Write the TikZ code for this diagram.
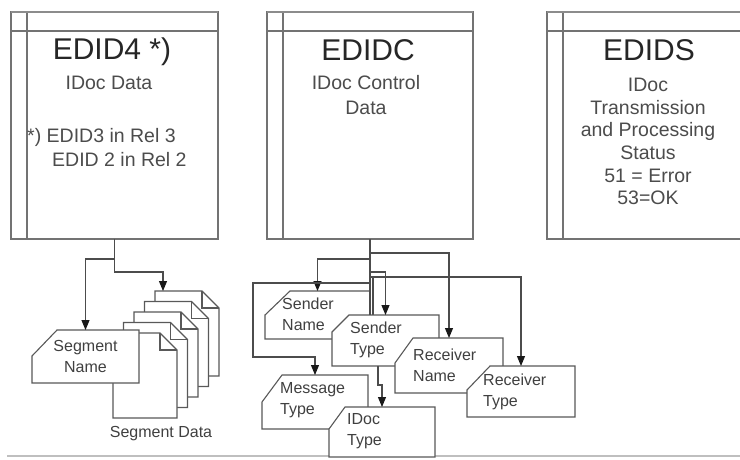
\documentclass[tikz,border=0pt]{standalone}
\usepackage{fontspec}
\setmainfont{Liberation Sans}
\usetikzlibrary{arrows.meta,calc}
\tikzset{
  tbl/.style={draw=black!55, line width=1.1pt, inner sep=0pt, outer sep=0pt, fill=white},
  ln/.style={draw=black!55, line width=1.1pt},
  topln/.style={draw=black!45, line width=2.4pt},
  conn/.style={draw=black!70, line width=1.1pt},
  arr/.style={conn, -{Triangle[width=8pt,length=10pt,color=black!90]}},
  shp/.style={draw=black!65, line width=1.1pt, fill=white},
  ttl/.style={font=\fontsize{30}{30}\selectfont, text=black!85, inner sep=0pt},
  sub/.style={font=\fontsize{19.5}{23}\selectfont, text=black!70, align=center, inner sep=0pt},
  lbl/.style={font=\fontsize{16}{21}\selectfont, text=black!75, align=left, inner sep=0pt},
}
\newcommand{\cutshape}[7]{%
  \node[inner sep=0pt, outer sep=0pt, minimum width=#4pt, minimum height=#5pt, anchor=north west] (#1) at (#2,#3) {};
  \filldraw[shp] ($(#1.north west)+(#6,0)$) -- (#1.north east) -- (#1.south east) -- (#1.south west) -- ($(#1.north west)+(0,#7)$) -- cycle;}
\newcommand{\docshape}[3]{%
  \node[inner sep=0pt, outer sep=0pt, minimum width=64pt, minimum height=85pt, anchor=north west] (#1) at (#2,#3) {};
  \filldraw[shp] (#1.north west) -- ($(#1.north east)+(-17,0)$) -- ($(#1.north east)+(0,17)$) -- (#1.south east) -- (#1.south west) -- cycle;
  \draw[shp, fill=none] ($(#1.north east)+(-17,0)$) -- ($(#1.north east)+(-17,17)$) -- ($(#1.north east)+(0,17)$);}
\begin{document}
\begin{tikzpicture}[x=1pt,y=-1pt]
\useasboundingbox (0,0) rectangle (740,459);
\clip (0,0) rectangle (740,459);
\fill[white] (0,0) rectangle (740,459);

% main tables
\node[tbl, minimum width=207pt, minimum height=227pt, anchor=north west] (edid4) at (11,12) {};
\node[tbl, minimum width=206pt, minimum height=227pt, anchor=north west] (edidc) at (267,12) {};
\node[tbl, minimum width=215pt, minimum height=227pt, anchor=north west] (edids) at (547,12) {};
\foreach \b in {edid4,edidc,edids}{
  \draw[ln] ($(\b.north west)+(16,0)$) -- ($(\b.south west)+(16,0)$);
  \draw[ln] ($(\b.north west)+(0,19)$) -- ($(\b.north east)+(0,19)$);
  \draw[topln] (\b.north west) -- (\b.north east);
}

% titles and texts
\node[ttl] (t4) at (112,52) {EDID4 *)};
\node[sub] (s4) at (109,83) {IDoc Data};
\node[sub, anchor=west] (n4a) at (27,137) {*) EDID3 in Rel 3};
\node[sub, anchor=west] (n4b) at (52,160) {EDID 2 in Rel 2};

\node[ttl] (tc) at (368,50) {EDIDC};
\node[sub, font=\fontsize{19.5}{25}\selectfont] (sc) at (366,95.5) {IDoc Control\\Data};

\node[ttl] (ts) at (649,50) {EDIDS};
\node[sub, font=\fontsize{19.5}{22.6}\selectfont] (ss) at (648,141.5) {IDoc\\Transmission\\and Processing\\Status\\51 = Error\\53=OK};

% bottom rule
\coordinate (rulel) at (7,456);
\coordinate (ruler) at (740,456);
\draw[black!25, line width=1.5pt] (rulel) -- (ruler);

% segment documents
\docshape{doc4}{155}{291}
\docshape{doc3}{144.5}{301.5}
\docshape{doc2}{134}{312}
\docshape{doc1}{123.5}{322.5}
\docshape{doc0}{113}{333}
\cutshape{segname}{32}{330}{107}{53}{25}{26}
\node[lbl, align=center] (segnamet) at (85.5,356) {Segment\\Name};
\node[lbl] (segdata) at (161,434) {Segment Data};

% hidden line behind sender type
\draw[conn] ($(edidc.south)+(0,38)$) -- ++(3,0) -- ++(0,40);

% control record fields
\cutshape{sendername}{265}{291}{105}{48}{25}{24}
\cutshape{sendertype}{332}{315}{107}{51}{17}{17}
\cutshape{recname}{395}{338}{108}{55}{18}{25}
\cutshape{rectype}{467}{366}{108}{51}{23}{24}
\cutshape{msgtype}{262}{375}{106}{54}{20}{27}
\cutshape{idoctype}{329}{407}{106}{50}{16}{22}

\node[lbl, anchor=west] (sendernamet) at (282,314.5) {Sender\\Name};
\node[lbl, anchor=west] (sendertypet) at (350,339.5) {Sender\\Type};
\node[lbl, anchor=west] (recnamet) at (413,365) {Receiver\\Name};
\node[lbl, anchor=west] (rectypet) at (483,391.5) {Receiver\\Type};
\node[lbl, anchor=west] (msgtypet) at (280,400) {Message\\Type};
\node[lbl, anchor=west] (idoctypet) at (347,431) {IDoc\\Type};

% connectors from EDID4
\draw[arr] (edid4.south) -- ++(0,20) -| (segname.north);
\draw[arr] (edid4.south) -- ++(0,33) -| ($(doc4.north west)+(8,0)$);

% connectors from EDIDC
\draw[conn] (edidc.south) -- (sendertype.north -| edidc.south);
\draw[arr] (edidc.south) -- ++(0,14) -| (recname.north);
\draw[arr] (edidc.south) -- ++(0,20) -| (sendername.north);
\draw[arr] (edidc.south) -- ++(0,44) -| ++(-117,74) -| (msgtype.north);
\draw[arr] (edidc.south) -- ++(0,33) -| (sendertype.north);
\draw[arr] ($(edidc.south)+(3,38)$) -| (rectype.north);
\draw[arr] ($(sendertype.south west)+(46,0)$) -- ++(0,19) -| (idoctype.north);
\end{tikzpicture}
\end{document}
